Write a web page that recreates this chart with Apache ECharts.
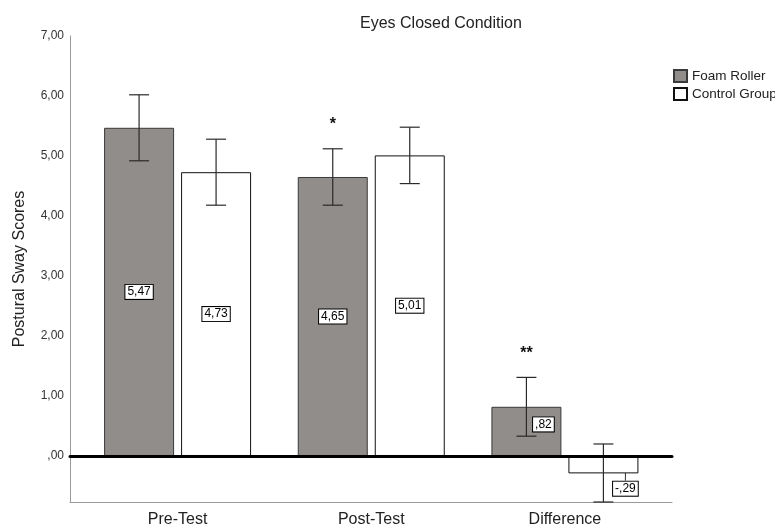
<!DOCTYPE html>
<html>
<head>
<meta charset="utf-8">
<script src="https://cdn.jsdelivr.net/npm/echarts@6/dist/echarts.min.js"></script>
<style>html,body{margin:0;padding:0;background:#fff}#c{width:775px;height:526px}</style>
</head>
<body>
<div id="c"></div>
<script>
const categories = ['Pre-Test', 'Post-Test', 'Difference'];
const seriesNames = ['Foam Roller', 'Control Group'];
const foamMeans = [5.47, 4.65, 0.82];
const controlMeans = [4.73, 5.01, -0.29];
const foamLower = [4.92, 4.18, 0.33];
const foamUpper = [6.02, 5.12, 1.31];
const controlLower = [4.18, 4.54, -0.78];
const controlUpper = [5.28, 5.48, 0.20];
const foamSig = ['', '*', '**'];
const controlSig = ['', '', ''];
const yTicks = [0, 1, 2, 3, 4, 5, 6, 7];
const yMin = -0.767, yMax = 7;
const titleText = 'Eyes Closed Condition';
const yName = 'Postural Sway Scores';

const FONT = '"Liberation Sans", Arial, sans-serif';
const BAR_W = 70, BAR_GAP = 7;

function fmt(v) {
  let s = Math.abs(v).toFixed(2).replace('.', ',');
  if (s.startsWith('0,')) s = s.slice(1);
  return (v < 0 ? '-' : '') + s;
}

function errorSeries(name, lower, upper, sig, side) {
  return {
    type: 'custom', name: name + ' err', xAxisIndex: 0, yAxisIndex: 0, z: 5,
    silent: true,
    data: categories.map((c, i) => [i, lower[i], upper[i]]),
    renderItem: function (params, api) {
      const i = api.value(0);
      const pLo = api.coord([i, api.value(1)]);
      const pHi = api.coord([i, api.value(2)]);
      const off = side * (BAR_W + BAR_GAP) / 2;
      const cx = pLo[0] + off;
      const bottom = params.coordSys.y + params.coordSys.height;
      const yLo = Math.min(pLo[1], bottom);
      const yHi = pHi[1];
      const st = { stroke: '#2a2a2a', lineWidth: 1.2 };
      const children = [
        { type: 'line', shape: { x1: cx, y1: yLo, x2: cx, y2: yHi }, style: st },
        { type: 'line', shape: { x1: cx - 10, y1: yHi, x2: cx + 10, y2: yHi }, style: st },
        { type: 'line', shape: { x1: cx - 10, y1: yLo, x2: cx + 10, y2: yLo }, style: st }
      ];
      const s = sig[params.dataIndex];
      if (s) {
        children.push({ type: 'text', x: cx, y: yHi - 24,
          style: { text: s, font: 'bold 16px ' + FONT, fill: '#111', align: 'center', verticalAlign: 'middle' } });
      }
      return { type: 'group', children: children };
    }
  };
}

const labelStyle = {
  show: true, position: 'inside', formatter: p => fmt(p.value),
  fontFamily: FONT, fontSize: 12, color: '#000',
  backgroundColor: '#fff', borderColor: '#000', borderWidth: 1, padding: [1, 2, 1, 2]
};

const chart = echarts.init(document.getElementById('c'), null, { renderer: 'canvas' });
chart.setOption({
  animation: false,
  backgroundColor: '#fff',
  title: { text: titleText, left: 360, top: 16, padding: 0,
    textStyle: { fontFamily: FONT, fontSize: 16, fontWeight: 'normal', color: '#222' } },
  legend: {
    data: seriesNames, orient: 'vertical', left: 673, top: 69, padding: 0, itemGap: 4,
    itemWidth: 13, itemHeight: 12, icon: 'rect',
    textStyle: { fontFamily: FONT, fontSize: 13.5, color: '#222' }
  },
  grid: [
    { left: 80.75, right: 113.25, top: 36, bottom: 24, outerBoundsMode: 'none' },
    { left: 70, right: 103, top: 36, bottom: 24, outerBoundsMode: 'none' }
  ],
  xAxis: [
    { gridIndex: 0, type: 'category', data: categories,
      axisLine: { show: false }, axisTick: { show: false },
      axisLabel: { fontFamily: FONT, fontSize: 16, color: '#222', margin: 10 } },
    { gridIndex: 1, type: 'value', min: 0, max: 1, position: 'top', z: 10,
      axisLine: { show: true, onZero: true, lineStyle: { color: '#000', width: 3 } },
      axisTick: { show: false }, axisLabel: { show: false }, splitLine: { show: false } },
    { gridIndex: 1, type: 'value', min: 0, max: 1, position: 'bottom',
      axisLine: { show: true, onZero: false, lineStyle: { color: '#999', width: 1 } },
      axisTick: { show: false }, axisLabel: { show: false }, splitLine: { show: false } }
  ],
  yAxis: [
    { gridIndex: 0, type: 'value', min: yMin, max: yMax, offset: 10.75,
      name: yName, nameLocation: 'middle', nameGap: 42,
      nameTextStyle: { fontFamily: FONT, fontSize: 16, color: '#222' },
      axisLine: { show: true, lineStyle: { color: '#999', width: 1 } },
      axisTick: { show: false }, splitLine: { show: false },
      axisLabel: { customValues: yTicks, formatter: v => fmt(v), fontFamily: FONT, fontSize: 12, color: '#333', margin: 6, padding: [3, 0, 0, 0] } },
    { gridIndex: 1, type: 'value', min: yMin, max: yMax, show: false }
  ],
  series: [
    { type: 'bar', name: seriesNames[0], data: foamMeans, xAxisIndex: 0, yAxisIndex: 0,
      barWidth: BAR_W, barGap: (BAR_GAP / BAR_W * 100) + '%',
      itemStyle: { color: '#918d8b', borderColor: '#3a3a3a', borderWidth: 1 },
      label: labelStyle,
      labelLayout: p => (p.dataIndex === 2 ? { dx: 17, dy: -7 } : {}) },
    { type: 'bar', name: seriesNames[1], data: controlMeans, xAxisIndex: 0, yAxisIndex: 0,
      barWidth: BAR_W,
      itemStyle: { color: '#fff', borderColor: '#111', borderWidth: 1 },
      label: labelStyle,
      labelLine: { show: true, lineStyle: { color: '#333', width: 1 } },
      labelLayout: p => (p.dataIndex === 2 ? { dx: 22, dy: 24 } : {}) },
    errorSeries(seriesNames[0], foamLower, foamUpper, foamSig, -1),
    errorSeries(seriesNames[1], controlLower, controlUpper, controlSig, 1),
    { type: 'scatter', xAxisIndex: 1, yAxisIndex: 1, data: [], silent: true }
  ]
});
</script>
</body>
</html>
